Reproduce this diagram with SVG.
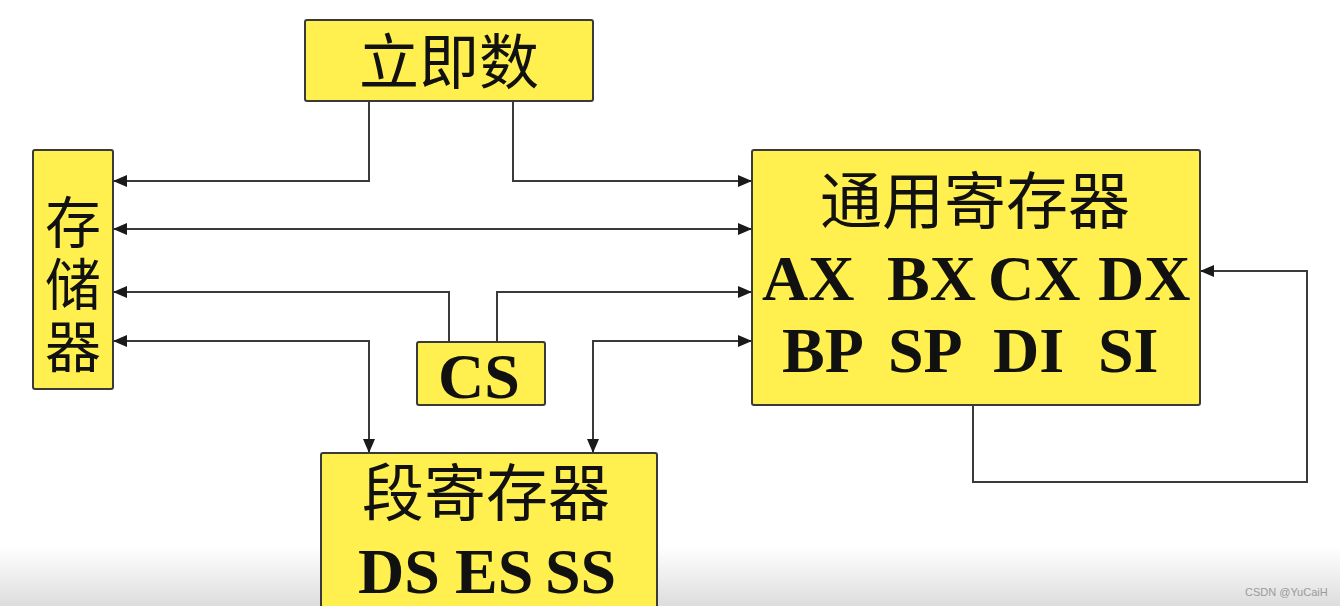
<svg xmlns="http://www.w3.org/2000/svg" width="1340" height="606" viewBox="0 0 1340 606">
<style>
.box{fill:#FFEF4F;stroke:#3a3a3a;stroke-width:2}
.cjk{font-family:"Noto Sans CJK SC","Noto Sans CJK JP",sans-serif;fill:#111;font-weight:400}
.lat{font-family:"Liberation Serif","Times New Roman",serif;font-weight:bold;fill:#111}
.ln{fill:none;stroke:#3a3a3a;stroke-width:2}
</style>
<defs>
<marker id="ah" markerUnits="userSpaceOnUse" markerWidth="14" markerHeight="12" refX="13" refY="6" orient="auto-start-reverse" viewBox="0 0 14 12">
<path d="M0,0 L14,6 L0,12 Z" fill="#1a1a1a"/>
</marker>
<linearGradient id="fade" x1="0" y1="0" x2="0" y2="1">
<stop offset="0" stop-color="#c8c8c8" stop-opacity="0"/>
<stop offset="1" stop-color="#c0c0c0" stop-opacity="0.55"/>
</linearGradient>
</defs>
<rect width="1340" height="606" fill="#fff"/>
<rect x="0" y="545" width="1340" height="61" fill="url(#fade)"/>

<g id="connectors">
<path class="ln" d="M369,101 V181 H114" marker-end="url(#ah)"/>
<path class="ln" d="M513,101 V181 H751" marker-end="url(#ah)"/>
<path class="ln" d="M114,229 H751" marker-start="url(#ah)" marker-end="url(#ah)"/>
<path class="ln" d="M449,342 V292 H114" marker-end="url(#ah)"/>
<path class="ln" d="M497,342 V292 H751" marker-end="url(#ah)"/>
<path class="ln" d="M114,341 H369 V452" marker-start="url(#ah)" marker-end="url(#ah)"/>
<path class="ln" d="M751,341 H593 V452" marker-start="url(#ah)" marker-end="url(#ah)"/>
<path class="ln" d="M973,405 V482 H1307 V271 H1201" marker-end="url(#ah)"/>
</g>

<g id="immediate">
<rect class="box" x="305" y="20" width="288" height="81" rx="2"/>
<text class="cjk" x="449" y="84" font-size="60" text-anchor="middle">立即数</text>
</g>

<g id="memory">
<rect class="box" x="33" y="150" width="80" height="239" rx="2"/>
<text class="cjk" x="73" y="194" font-size="56" letter-spacing="6" style="writing-mode:vertical-rl">存储器</text>
</g>

<g id="general-registers">
<rect class="box" x="752" y="150" width="448" height="255" rx="2"/>
<text class="cjk" x="975" y="224" font-size="62" text-anchor="middle">通用寄存器</text>
<text class="lat" font-size="64" y="300"><tspan x="762">AX</tspan><tspan x="887">BX</tspan><tspan x="988">CX</tspan><tspan x="1098">DX</tspan></text>
<text class="lat" font-size="64" y="372"><tspan x="782">BP</tspan><tspan x="888">SP</tspan><tspan x="993">DI</tspan><tspan x="1098">SI</tspan></text>
</g>

<g id="cs">
<rect class="box" x="417" y="342" width="128" height="63" rx="2"/>
<text class="lat" x="479" y="398" font-size="64" text-anchor="middle">CS</text>
</g>

<g id="segment-registers">
<rect class="box" x="321" y="453" width="336" height="160" rx="2"/>
<text class="cjk" x="486" y="516" font-size="62" text-anchor="middle">段寄存器</text>
<text class="lat" font-size="64" y="593"><tspan x="358">DS</tspan><tspan x="455">ES</tspan><tspan x="545">SS</tspan></text>
</g>

<text x="1245" y="596" font-family="Liberation Sans, Arial, sans-serif" font-size="11" fill="#9a9a9a">CSDN @YuCaiH</text>
</svg>
